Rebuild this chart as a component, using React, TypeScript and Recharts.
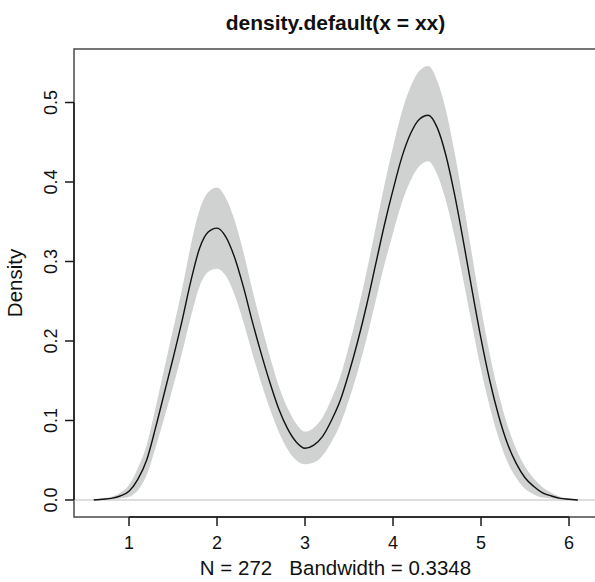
import { Area, ComposedChart, Label, Line, ReferenceArea, ReferenceLine, XAxis, YAxis } from 'recharts';

const FONT = '"Liberation Sans", Arial, Helvetica, sans-serif';

const title = 'density.default(x = xx)';
const xLabel = 'N = 272   Bandwidth = 0.3348';
const yLabel = 'Density';

const xTicks = [1, 2, 3, 4, 5, 6];
const yTicks = [0, 0.1, 0.2, 0.3, 0.4, 0.5];

// evaluation points of the estimate
const xGrid = [
  0.6, 0.7, 0.8, 0.9, 1.0, 1.1, 1.2, 1.3, 1.4, 1.5, 1.6, 1.7, 1.8, 1.9,
  2.0, 2.1, 2.2, 2.3, 2.4, 2.5, 2.6, 2.7, 2.8, 2.9, 3.0, 3.1, 3.2, 3.3,
  3.4, 3.5, 3.6, 3.7, 3.8, 3.9, 4.0, 4.1, 4.2, 4.3, 4.4, 4.5, 4.6, 4.7,
  4.8, 4.9, 5.0, 5.1, 5.2, 5.3, 5.4, 5.5, 5.6, 5.7, 5.8, 5.9, 6.0, 6.1
];

const densityValues = [
  0.000, 0.001, 0.002, 0.005, 0.011, 0.026, 0.050, 0.090, 0.134, 0.178, 0.224, 0.274, 0.316, 0.337,
  0.342, 0.331, 0.305, 0.268, 0.225, 0.185, 0.148, 0.115, 0.090, 0.073, 0.065, 0.069, 0.080, 0.100,
  0.125, 0.160, 0.200, 0.245, 0.295, 0.345, 0.390, 0.431, 0.461, 0.479, 0.484, 0.469, 0.434, 0.384,
  0.325, 0.263, 0.203, 0.150, 0.106, 0.071, 0.046, 0.028, 0.017, 0.009, 0.005, 0.002, 0.001, 0.000
];

const lowerBand = [
  0.000, 0.000, 0.001, 0.002, 0.004, 0.012, 0.031, 0.065, 0.103, 0.142, 0.184, 0.229, 0.268, 0.287,
  0.291, 0.282, 0.258, 0.224, 0.185, 0.148, 0.115, 0.086, 0.064, 0.050, 0.045, 0.047, 0.056, 0.073,
  0.095, 0.126, 0.162, 0.203, 0.249, 0.295, 0.336, 0.374, 0.402, 0.420, 0.426, 0.410, 0.377, 0.331,
  0.276, 0.219, 0.164, 0.117, 0.078, 0.048, 0.028, 0.014, 0.007, 0.003, 0.002, 0.001, 0.000, 0.000
];

const upperBand = [
  0.000, 0.002, 0.004, 0.009, 0.019, 0.040, 0.069, 0.115, 0.165, 0.214, 0.264, 0.319, 0.364, 0.387,
  0.393, 0.380, 0.352, 0.312, 0.265, 0.222, 0.181, 0.144, 0.116, 0.096, 0.086, 0.091, 0.104, 0.127,
  0.155, 0.194, 0.238, 0.287, 0.341, 0.395, 0.444, 0.488, 0.520, 0.540, 0.546, 0.528, 0.491, 0.437,
  0.374, 0.307, 0.242, 0.183, 0.134, 0.094, 0.064, 0.042, 0.027, 0.016, 0.009, 0.004, 0.002, 0.000
];

const X_DOMAIN = [0.375, 6.318];
const Y_DOMAIN = [-0.0214, 0.5673];

const rows = xGrid.map((x, i) => ({
  x,
  y: densityValues[i],
  band: [lowerBand[i], upperBand[i]]
}));

const XTick = ({ x, y, payload }: any) => (
  <text x={x} y={y + 23} textAnchor="middle" fontSize={18} fill="#111" fontFamily={FONT}>
    {payload.value}
  </text>
);

const YTick = ({ x, y, payload }: any) => (
  <text
    x={x - 8}
    y={y}
    transform={`rotate(-90, ${x - 8}, ${y})`}
    textAnchor="middle"
    fontSize={18}
    fill="#111"
    fontFamily={FONT}
  >
    {Number(payload.value).toFixed(1)}
  </text>
);

export default function App() {
  return (
    <div style={{ position: 'absolute', left: 0, top: 0, width: 595, height: 582, overflow: 'hidden', background: '#fff' }}>
      <ComposedChart width={610} height={582} data={rows} margin={{ top: 49, right: 13, bottom: 0, left: 0 }}>
        <XAxis
          type="number"
          dataKey="x"
          domain={X_DOMAIN}
          ticks={xTicks}
          interval={0}
          allowDataOverflow
          height={65}
          tickSize={9}
          tickMargin={0}
          axisLine={false}
          tickLine={{ stroke: '#1a1a1a', strokeWidth: 1.5 }}
          tick={XTick}
        >
          <Label
            content={({ viewBox }: any) => (
              <text
                x={viewBox.x + viewBox.width / 2}
                y={viewBox.y + 58}
                textAnchor="middle"
                fontSize={20.5}
                fill="#111"
                fontFamily={FONT}
                style={{ whiteSpace: 'pre' }}
              >
                {xLabel}
              </text>
            )}
          />
        </XAxis>
        <YAxis
          type="number"
          domain={Y_DOMAIN}
          ticks={yTicks}
          interval={0}
          allowDataOverflow
          width={74}
          tickSize={9}
          tickMargin={0}
          axisLine={false}
          tickLine={{ stroke: '#1a1a1a', strokeWidth: 1.5 }}
          tick={YTick}
        >
          <Label
            content={({ viewBox }: any) => {
              const cx = viewBox.x + 22;
              const cy = viewBox.y + viewBox.height / 2;
              return (
                <text
                  x={cx}
                  y={cy}
                  transform={`rotate(-90, ${cx}, ${cy})`}
                  textAnchor="middle"
                  fontSize={20.5}
                  fill="#111"
                  fontFamily={FONT}
                >
                  {yLabel}
                </text>
              );
            }}
          />
        </YAxis>
        <Area
          type="monotone"
          dataKey="band"
          stroke="none"
          fill="#d0d1d1"
          fillOpacity={1}
          isAnimationActive={false}
          activeDot={false}
        />
        <ReferenceLine y={0} stroke="#bebebe" strokeWidth={1} />
        <Line
          type="monotone"
          dataKey="y"
          stroke="#111"
          strokeWidth={1.4}
          dot={false}
          activeDot={false}
          isAnimationActive={false}
        />
        <ReferenceArea
          x1={X_DOMAIN[0]}
          x2={X_DOMAIN[1]}
          y1={Y_DOMAIN[0]}
          y2={Y_DOMAIN[1]}
          fill="none"
          stroke="#4a4a4a"
          strokeWidth={1.5}
          ifOverflow="visible"
        />
        <ReferenceLine
          segment={[{ x: X_DOMAIN[0], y: 0 }, { x: X_DOMAIN[0], y: 0.5 }]}
          stroke="#1a1a1a"
          strokeWidth={1.5}
          ifOverflow="visible"
        />
        <ReferenceLine
          segment={[{ x: 1, y: Y_DOMAIN[0] }, { x: 6, y: Y_DOMAIN[0] }]}
          stroke="#1a1a1a"
          strokeWidth={1.5}
          ifOverflow="visible"
        />
      </ComposedChart>
      <svg width={595} height={582} style={{ position: 'absolute', left: 0, top: 0, pointerEvents: 'none' }}>
        <text x={335.5} y={30} textAnchor="middle" fontSize={21} fontWeight="bold" fill="#111" fontFamily={FONT}>
          {title}
        </text>
      </svg>
    </div>
  );
}
